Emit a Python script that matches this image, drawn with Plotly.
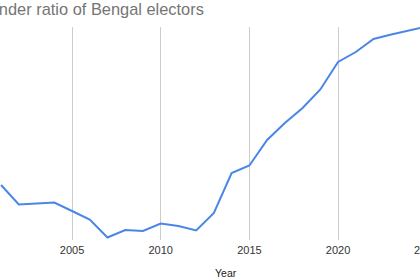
import plotly.graph_objects as go

years = list(range(2001, 2026))
gender_ratio = [938.6, 934.7, 934.9, 935.1, 933.4, 931.7, 928.1, 929.6, 929.4, 930.9,
                930.4, 929.5, 933.0, 941.0, 942.5, 947.6, 951.0, 954.0, 957.7, 963.2,
                965.2, 967.8, 968.7, 969.5, 970.3]
tick_years = [2005, 2010, 2015, 2020]
cut_tick = "2025"

W, H = 420, 280
top, bottom = 27, 240

fig = go.Figure()
fig.add_trace(go.Scatter(x=years, y=gender_ratio, mode="lines",
                         line=dict(color="#4a86e8", width=2), hoverinfo="skip"))

fig.update_layout(
    width=W, height=H,
    margin=dict(l=0, r=0, t=top, b=H - bottom, pad=0),
    paper_bgcolor="white", plot_bgcolor="white",
    showlegend=False,
    font=dict(family="Arial, Liberation Sans, sans-serif", color="#444"),
    xaxis=dict(range=[2000.94, 2024.62], tickvals=tick_years,
               ticktext=[str(t) for t in tick_years],
               showgrid=True, gridcolor="#cccccc", gridwidth=1,
               zeroline=False, showline=False, ticks="", ticklabelstandoff=2,
               tickfont=dict(size=11, color="#333")),
    yaxis=dict(range=[927.6, 970.2], visible=False, showgrid=False, zeroline=False),
    annotations=[
        dict(text="Gender ratio of Bengal electors", xref="paper", yref="paper",
             x=-25 / W, y=1 + (top - 9) / (bottom - top), xanchor="left", yanchor="middle",
             showarrow=False, font=dict(size=16.4, color="#757575")),
        dict(text=cut_tick, xref="paper", yref="paper",
             x=426 / W, y=-(250 - bottom) / (bottom - top), xanchor="center", yanchor="middle",
             showarrow=False, font=dict(size=11, color="#333")),
        dict(text="Year", xref="paper", yref="paper",
             x=213 / W, y=-(273 - bottom) / (bottom - top), xanchor="left", yanchor="middle",
             showarrow=False, font=dict(size=10.5, color="#222")),
    ],
)

fig.write_html("out.html")
